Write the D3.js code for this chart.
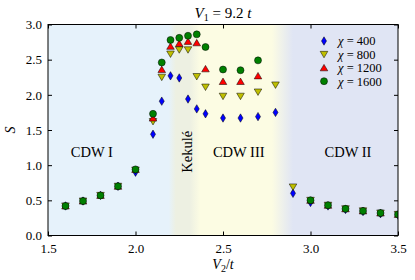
<!DOCTYPE html>
<html>
<head>
<meta charset="utf-8">
<script src="https://cdn.jsdelivr.net/npm/d3@7"></script>
<style>
  body { margin: 0; background: #fff; }
  text { font-family: "Liberation Serif", serif; fill: #000; }
</style>
</head>
<body>
<script>
// data
var v2_400  = [1.6, 1.7, 1.8, 1.9, 2.0, 2.1, 2.15, 2.2, 2.25, 2.3, 2.35, 2.4, 2.5, 2.6, 2.7, 2.8, 2.9, 3.0, 3.1, 3.2, 3.3, 3.4, 3.5];
var s_400   = [0.42, 0.49, 0.57, 0.70, 0.90, 1.44, 1.91, 2.27, 2.24, 1.94, 1.80, 1.73, 1.67, 1.67, 1.69, 1.75, 0.60, 0.47, 0.42, 0.37, 0.34, 0.31, 0.29];
var v2_800  = [1.6, 1.7, 1.8, 1.9, 2.0, 2.1, 2.15, 2.2, 2.25, 2.3, 2.35, 2.4, 2.5, 2.6, 2.7, 2.8, 2.9, 3.0, 3.1, 3.2, 3.3, 3.4, 3.5];
var s_800   = [0.42, 0.49, 0.57, 0.70, 0.93, 1.62, 2.25, 2.58, 2.64, 2.64, 2.26, 2.11, 1.98, 1.98, 2.04, 2.14, 0.69, 0.50, 0.43, 0.38, 0.35, 0.32, 0.30];
var v2_1200 = [1.6, 1.7, 1.8, 1.9, 2.0, 2.1, 2.15, 2.2, 2.25, 2.3, 2.35, 2.4, 2.5, 2.6, 2.7, 3.0, 3.1, 3.2, 3.3, 3.4, 3.5];
var s_1200  = [0.42, 0.49, 0.57, 0.70, 0.94, 1.67, 2.36, 2.69, 2.73, 2.76, 2.74, 2.37, 2.19, 2.19, 2.27, 0.50, 0.43, 0.38, 0.35, 0.32, 0.30];
var v2_1600 = [1.6, 1.7, 1.8, 1.9, 2.0, 2.1, 2.15, 2.2, 2.25, 2.3, 2.35, 2.4, 2.5, 2.6, 2.7, 3.0, 3.1, 3.2, 3.3, 3.4, 3.5];
var s_1600  = [0.42, 0.49, 0.57, 0.70, 0.94, 1.73, 2.46, 2.78, 2.81, 2.84, 2.86, 2.68, 2.36, 2.35, 2.49, 0.50, 0.43, 0.38, 0.35, 0.32, 0.30];

var labels = ["\u03c7 = 400", "\u03c7 = 800", "\u03c7 = 1200", "\u03c7 = 1600"];
var xTicks = [1.5, 2.0, 2.5, 3.0, 3.5];
var yTicks = [0.0, 0.5, 1.0, 1.5, 2.0, 2.5, 3.0];

// phase regions: name, position (V2, S), background gradient stops
var phaseNames = ["CDW I", "Kekul\u00e9", "CDW III", "CDW II"];
var phaseX     = [1.75, 2.296, 2.59, 3.214];
var phaseY     = [1.19, 1.19, 1.19, 1.19];
var bgStops    = [1.5, 2.19, 2.23, 2.31, 2.37, 2.78, 2.9, 3.5];
var bgColors   = ["#e6f2fb", "#e6f2fb", "#edf0e2", "#edf0e2", "#fcfce3", "#fcfce3", "#e0e5f4", "#e0e5f4"];

var margin = {top: 24.5, right: 17, bottom: 44.5, left: 48},
  width = 415 - margin.left - margin.right,
  height = 280 - margin.top - margin.bottom;

var svg = d3.select("body").append("svg")
  .attr("width", 415)
  .attr("height", 280);

var g = svg.append("g")
  .attr("transform", "translate(" + margin.left + "," + margin.top + ")");

var x = d3.scaleLinear().domain([1.5, 3.5]).range([0, width]);
var y = d3.scaleLinear().domain([0, 3]).range([height, 0]);

var defs = svg.append("defs");
var grad = defs.append("linearGradient")
  .attr("id", "bg")
  .attr("gradientUnits", "userSpaceOnUse")
  .attr("x1", 0).attr("x2", width).attr("y1", 0).attr("y2", 0);
grad.selectAll("stop")
  .data(bgStops)
  .enter().append("stop")
  .attr("offset", function (d) { return x(d) / width; })
  .attr("stop-color", function (d, i) { return bgColors[i]; });

defs.append("clipPath").attr("id", "clip")
  .append("rect").attr("width", width).attr("height", height);

g.append("rect")
  .attr("width", width)
  .attr("height", height)
  .attr("fill", "url(#bg)");

// phase labels
g.selectAll(".phase")
  .data(phaseNames)
  .enter().append("text")
  .attr("class", "phase")
  .attr("font-size", 14.5)
  .attr("text-anchor", "middle")
  .attr("transform", function (d, i) {
    var t = "translate(" + x(phaseX[i]) + "," + y(phaseY[i]) + ")";
    return d == "Kekul\u00e9" ? t + " rotate(-90)" : t;
  })
  .attr("dy", "0.35em")
  .text(function (d) { return d; });

// markers
var diamond = function (s) {
  return "M0," + (-s) + "L" + (s * 0.6) + ",0L0," + s + "L" + (-s * 0.6) + ",0Z";
};
var triDown = function (s) {
  return "M" + (-s) + "," + (-s * 0.8) + "L" + s + "," + (-s * 0.8) + "L0," + (s * 0.9) + "Z";
};
var triUp = function (s) {
  return "M" + (-s) + "," + (s * 0.8) + "L" + s + "," + (s * 0.8) + "L0," + (-s * 0.9) + "Z";
};
var circle = function (s) {
  return "M" + s + ",0A" + s + "," + s + " 0 1,1 " + (-s) + ",0A" + s + "," + s + " 0 1,1 " + s + ",0Z";
};

var series = [
  {xs: v2_400, ys: s_400, color: "#0000ff", shape: diamond, size: 4.2},
  {xs: v2_800, ys: s_800, color: "#bfbf00", shape: triDown, size: 3.8},
  {xs: v2_1200, ys: s_1200, color: "#ff0000", shape: triUp, size: 3.8},
  {xs: v2_1600, ys: s_1600, color: "#008000", shape: circle, size: 3.5}
];

var pts = g.append("g").attr("clip-path", "url(#clip)");
series.forEach(function (sr) {
  pts.selectAll(null)
    .data(sr.xs)
    .enter().append("path")
    .attr("transform", function (d, i) {
      return "translate(" + x(d) + "," + y(sr.ys[i]) + ")";
    })
    .attr("d", sr.shape(sr.size))
    .attr("fill", sr.color)
    .attr("stroke", "#000")
    .attr("stroke-width", 0.5);
});

// frame + inward ticks
g.append("rect")
  .attr("width", width).attr("height", height)
  .attr("fill", "none").attr("stroke", "#000").attr("stroke-width", 1);

var xb = g.append("g").attr("transform", "translate(0," + height + ")")
  .call(d3.axisBottom(x).tickValues(xTicks).tickSizeInner(-4).tickSizeOuter(0).tickPadding(8).tickFormat(d3.format(".1f")));
var xt = g.append("g")
  .call(d3.axisTop(x).tickValues(xTicks).tickSizeInner(-4).tickSizeOuter(0).tickFormat(""));
var yl = g.append("g")
  .call(d3.axisLeft(y).tickValues(yTicks).tickSizeInner(-4).tickSizeOuter(0).tickPadding(6).tickFormat(d3.format(".1f")));
var yr = g.append("g").attr("transform", "translate(" + width + ",0)")
  .call(d3.axisRight(y).tickValues(yTicks).tickSizeInner(-4).tickSizeOuter(0).tickFormat(""));
[xb, xt, yl, yr].forEach(function (a) {
  a.select(".domain").remove();
  a.selectAll("text").attr("font-family", "Liberation Serif").attr("font-size", 13);
});

// legend
var leg = g.append("g").attr("transform", "translate(276,16.5)");
series.forEach(function (sr, i) {
  leg.append("path")
    .attr("transform", "translate(0," + (i * 13.4) + ")")
    .attr("d", sr.shape(sr.size))
    .attr("fill", sr.color)
    .attr("stroke", "#000")
    .attr("stroke-width", 0.5);
  var t = leg.append("text")
    .attr("x", 14).attr("y", i * 13.4).attr("dy", "0.35em")
    .attr("font-size", 12.5);
  t.append("tspan").attr("font-style", "italic").text("\u03c7");
  t.append("tspan").text(labels[i].slice(1));
});

// title
var title = svg.append("text")
  .attr("x", margin.left + width / 2).attr("y", 18)
  .attr("text-anchor", "middle").attr("font-size", 15);
title.append("tspan").attr("font-style", "italic").text("V");
title.append("tspan").attr("font-size", 10).attr("dy", 3).text("1");
title.append("tspan").attr("dy", -3).text(" = 9.2 ");
title.append("tspan").attr("font-style", "italic").text("t");

// axis labels
var xlab = svg.append("text")
  .attr("x", margin.left + width / 2).attr("y", 269)
  .attr("text-anchor", "middle").attr("font-size", 14);
xlab.append("tspan").attr("font-style", "italic").text("V");
xlab.append("tspan").attr("font-size", 10).attr("dy", 3).text("2");
xlab.append("tspan").attr("dy", -3).text("/");
xlab.append("tspan").attr("font-style", "italic").text("t");

svg.append("text")
  .attr("transform", "translate(15," + (margin.top + height / 2) + ") rotate(-90)")
  .attr("text-anchor", "middle").attr("font-size", 14)
  .attr("font-style", "italic")
  .text("S");
</script>
</body>
</html>
